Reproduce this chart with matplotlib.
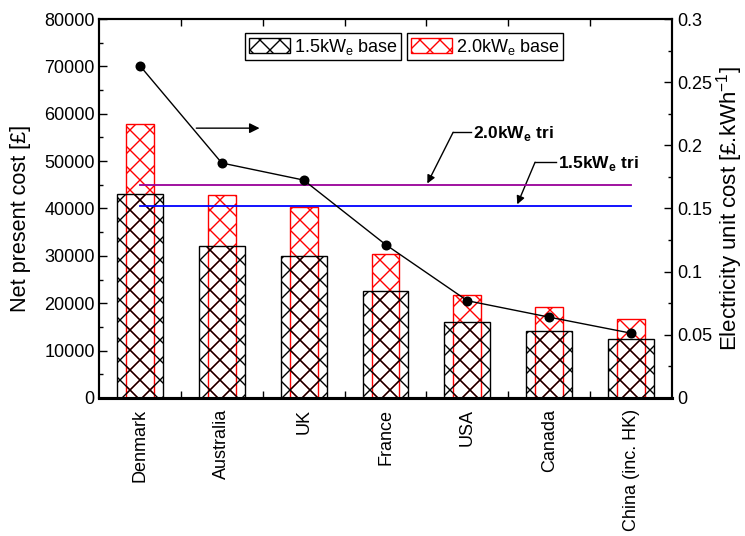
import numpy as np
from matplotlib import pyplot as plt
from matplotlib.patches import Patch
from matplotlib.ticker import MultipleLocator, FixedLocator

# render at 120 dpi so the cross hatch gets the finer spacing of the original;
# every size below is given for 100 dpi and scaled with K
DPI = 120
K = 100 / DPI

plt.rcParams["font.family"] = ["Liberation Sans", "DejaVu Sans"]
plt.rcParams["mathtext.fontset"] = "custom"
plt.rcParams["mathtext.rm"] = "Liberation Sans"
plt.rcParams["mathtext.bf"] = "Liberation Sans:bold"
plt.rcParams["hatch.linewidth"] = 1.0 * K

countries = ["Denmark", "Australia", "UK", "France", "USA", "Canada",
             "China (inc. HK)"]
npc_15_base = [43000, 32000, 29900, 22500, 16100, 14200, 12400]
npc_20_base = [57900, 42800, 40300, 30500, 21700, 19300, 16700]
npc_15_tri = 40600
npc_20_tri = 44900
unit_cost = [0.263, 0.186, 0.1725, 0.1215, 0.077, 0.064, 0.0513]

x = np.arange(len(countries))

fig = plt.figure(figsize=(745 / DPI, 536 / DPI), dpi=DPI)
ax = fig.add_axes([99 / 745, 1 - 398 / 536, 573 / 745, 379 / 536])

# red bars sit behind, black bars drawn on top without fill
ax.bar(x, npc_20_base, width=0.34, facecolor="none", edgecolor="red",
       hatch="xx", linewidth=1.0 * K, zorder=2)
ax.bar(x, npc_15_base, width=0.56, facecolor="none", edgecolor="black",
       hatch="xx", linewidth=1.0 * K, zorder=3)

ax.plot([x[0], x[-1]], [npc_20_tri, npc_20_tri], color="#990099",
        lw=1.3 * K, zorder=4)
ax.plot([x[0], x[-1]], [npc_15_tri, npc_15_tri], color="blue",
        lw=1.3 * K, zorder=4)

ax.set_xlim(-0.5, len(countries) - 0.5)
ax.set_ylim(0, 80000)
ax.set_xticks(x)
ax.set_xticklabels(countries, rotation=90, fontsize=13 * K)
ax.xaxis.set_minor_locator(FixedLocator(x[:-1] + 0.5))
ax.yaxis.set_major_locator(MultipleLocator(10000))
ax.yaxis.set_minor_locator(MultipleLocator(5000))
ax.tick_params(axis="x", which="major", length=0, pad=8 * K)
ax.tick_params(axis="x", which="minor", direction="in", length=5 * K,
               top=True, bottom=True, width=1 * K)
ax.tick_params(axis="y", which="major", direction="in", length=6 * K,
               labelsize=13 * K, pad=3 * K, width=1 * K)
ax.tick_params(axis="y", which="minor", direction="in", length=3 * K,
               width=1 * K)
ax.set_ylabel("Net present cost [£]", fontsize=15.6 * K)
ax.yaxis.set_label_coords(-0.119, 0.475)
for s in ax.spines.values():
    s.set_linewidth(1.5 * K)
ax.spines["bottom"].set_linewidth(2.2 * K)

ax2 = ax.twinx()
ax2.plot(x, unit_cost, color="black", lw=1 * K, marker="o",
         markersize=6 * K, zorder=5)
ax2.set_ylim(0, 0.3)
ax2.yaxis.set_minor_locator(MultipleLocator(0.025))
ax2.set_yticks([0, 0.05, 0.1, 0.15, 0.2, 0.25, 0.3])
ax2.set_yticklabels(["0", "0.05", "0.1", "0.15", "0.2", "0.25", "0.3"])
ax2.tick_params(axis="y", which="major", direction="in", length=6 * K,
                labelsize=13 * K, pad=4 * K, width=1 * K)
ax2.tick_params(axis="y", which="minor", direction="in", length=3 * K,
                width=1 * K)
ax2.set_ylabel("Electricity unit cost [£.kWh$^{-1}$]", fontsize=16 * K,
               labelpad=1 * K)
for s in ax2.spines.values():
    s.set_linewidth(1.5 * K)
ax2.spines["bottom"].set_linewidth(2.2 * K)

# arrow pointing to the right-hand axis
ax.annotate("", xy=(0.286, 0.712), xytext=(0.164, 0.712),
            xycoords="axes fraction", textcoords="axes fraction",
            arrowprops=dict(arrowstyle="-|>", color="black", lw=1 * K,
                            mutation_scale=15 * K))

# labels for the tri lines
for txt, tx, corner, tip in [
        ("2.0kW$_\\mathbf{e}$ tri", 0.653, (0.618, 0.701), (0.573, 0.566)),
        ("1.5kW$_\\mathbf{e}$ tri", 0.801, (0.761, 0.622), (0.730, 0.511))]:
    ax.text(tx, corner[1] - 0.004, txt, transform=ax.transAxes,
            fontsize=12.5 * K, fontweight="bold", va="center", ha="left")
    ax.plot([corner[0], tx - 0.003], [corner[1], corner[1]], color="black",
            lw=1 * K, transform=ax.transAxes)
    ax.annotate("", xy=tip, xytext=corner, xycoords="axes fraction",
                textcoords="axes fraction",
                arrowprops=dict(arrowstyle="-|>", color="black", lw=1 * K,
                                mutation_scale=12 * K, shrinkA=0, shrinkB=0))

# two separately boxed legend entries
leg_kw = dict(fontsize=13 * K, frameon=True, fancybox=False, framealpha=1,
              edgecolor="black", handlelength=2.3, handleheight=0.85,
              handletextpad=0.2, borderpad=0.2, borderaxespad=0,
              loc="upper left", bbox_transform=fig.transFigure)
h1 = Patch(facecolor="none", edgecolor="black", hatch="xx", lw=1 * K)
h2 = Patch(facecolor="none", edgecolor="red", hatch="xx", lw=1 * K)
leg1 = ax2.legend([h1], ["1.5kW$_\\mathrm{e}$ base"],
                  bbox_to_anchor=(245 / 745, 1 - 33 / 536), **leg_kw)
leg1.get_frame().set_linewidth(1 * K)
ax2.add_artist(leg1)
leg2 = ax2.legend([h2], ["2.0kW$_\\mathrm{e}$ base"],
                  bbox_to_anchor=(407 / 745, 1 - 33 / 536), **leg_kw)
leg2.get_frame().set_linewidth(1 * K)

fig.savefig("out.png", dpi=DPI)
